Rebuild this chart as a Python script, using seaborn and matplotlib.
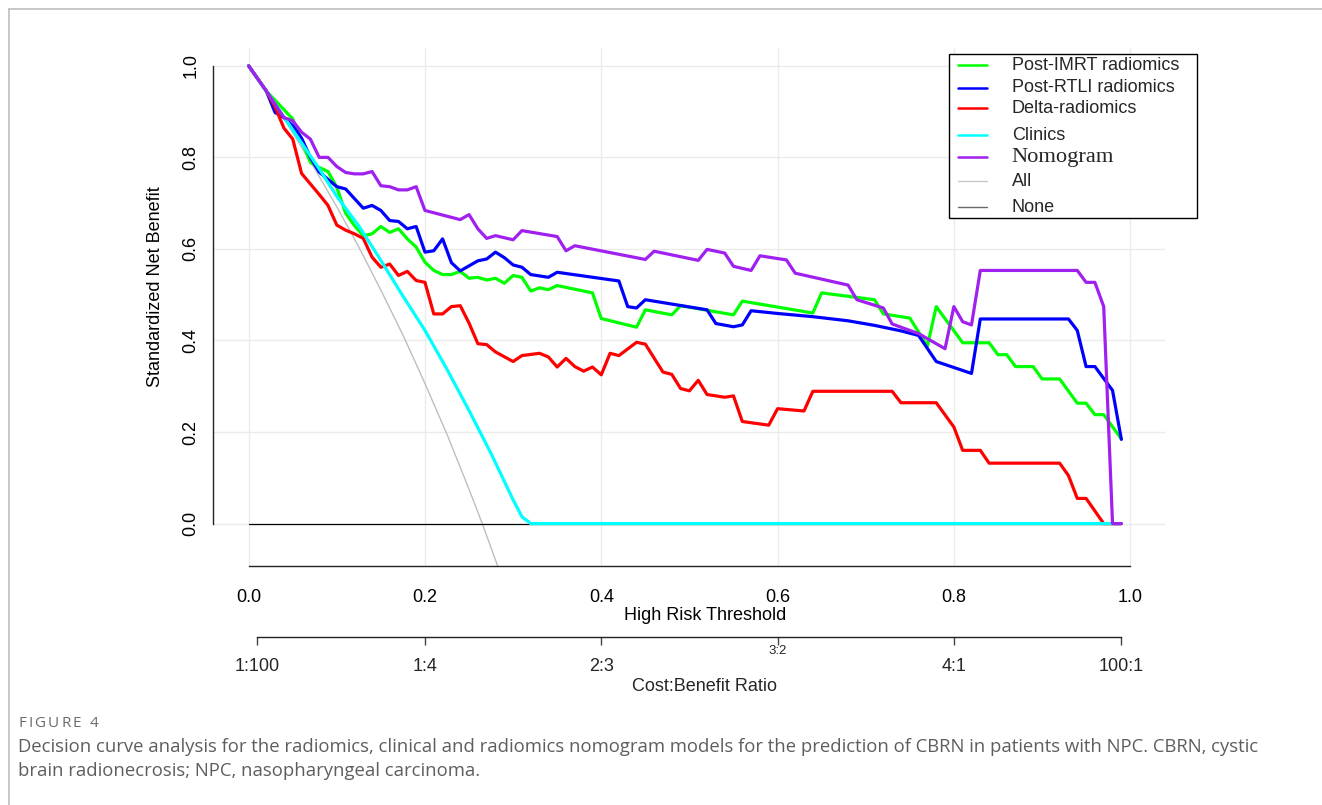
import numpy as np
import pandas as pd
import matplotlib
matplotlib.use("Agg")
import matplotlib.pyplot as plt
import matplotlib.transforms as mtransforms
from matplotlib.lines import Line2D
from matplotlib.patches import Rectangle
import seaborn as sns

# ---------------- data ----------------
post_imrt_x = [0, 0.02, 0.05, 0.07, 0.08, 0.09, 0.10, 0.11, 0.12, 0.13, 0.14, 0.15, 0.16, 0.17,
               0.18, 0.19, 0.20, 0.21, 0.22, 0.23, 0.24, 0.25, 0.26, 0.27, 0.28, 0.29, 0.30, 0.31,
               0.32, 0.33, 0.34, 0.35, 0.39, 0.40, 0.44, 0.45, 0.48, 0.49, 0.55, 0.56, 0.64, 0.65,
               0.71, 0.72, 0.75, 0.77, 0.78, 0.81, 0.84, 0.85, 0.86, 0.87, 0.89, 0.90, 0.92, 0.94,
               0.95, 0.96, 0.97, 0.99]
post_imrt_y = [1.0, 0.945, 0.884, 0.789, 0.778, 0.769, 0.735, 0.678, 0.651, 0.629, 0.633, 0.649,
               0.636, 0.644, 0.622, 0.604, 0.571, 0.553, 0.544, 0.544, 0.551, 0.536, 0.538, 0.532,
               0.536, 0.525, 0.542, 0.538, 0.508, 0.515, 0.511, 0.520, 0.504, 0.448, 0.429, 0.467,
               0.456, 0.476, 0.456, 0.486, 0.460, 0.504, 0.489, 0.458, 0.449, 0.388, 0.474, 0.395,
               0.395, 0.369, 0.369, 0.343, 0.343, 0.316, 0.316, 0.263, 0.263, 0.238, 0.238, 0.185]

post_rtli_x = [0, 0.02, 0.03, 0.04, 0.05, 0.06, 0.07, 0.08, 0.09, 0.10, 0.11, 0.13, 0.14, 0.15,
               0.16, 0.17, 0.18, 0.19, 0.20, 0.21, 0.22, 0.23, 0.24, 0.26, 0.27, 0.28, 0.29, 0.30,
               0.31, 0.32, 0.34, 0.35, 0.42, 0.43, 0.44, 0.45, 0.52, 0.53, 0.55, 0.56, 0.57, 0.60,
               0.64, 0.68, 0.71, 0.74, 0.76, 0.78, 0.82, 0.83, 0.93, 0.94, 0.95, 0.96, 0.98, 0.99]
post_rtli_y = [1.0, 0.945, 0.898, 0.887, 0.869, 0.842, 0.800, 0.768, 0.752, 0.736, 0.731, 0.689,
               0.695, 0.684, 0.662, 0.660, 0.644, 0.649, 0.593, 0.596, 0.622, 0.570, 0.552, 0.574,
               0.578, 0.593, 0.581, 0.565, 0.560, 0.544, 0.538, 0.549, 0.530, 0.474, 0.471, 0.489,
               0.467, 0.437, 0.430, 0.434, 0.465, 0.459, 0.452, 0.443, 0.433, 0.421, 0.411, 0.354,
               0.328, 0.447, 0.447, 0.422, 0.343, 0.343, 0.291, 0.184]

delta_x = [0, 0.02, 0.03, 0.04, 0.05, 0.06, 0.07, 0.08, 0.09, 0.10, 0.11, 0.12, 0.13, 0.14, 0.15,
           0.16, 0.17, 0.18, 0.19, 0.20, 0.21, 0.22, 0.23, 0.24, 0.25, 0.26, 0.27, 0.28, 0.30,
           0.31, 0.33, 0.34, 0.35, 0.36, 0.37, 0.38, 0.39, 0.40, 0.41, 0.42, 0.44, 0.45, 0.47,
           0.48, 0.49, 0.50, 0.51, 0.52, 0.54, 0.55, 0.56, 0.59, 0.60, 0.63, 0.64, 0.73, 0.74,
           0.78, 0.80, 0.81, 0.83, 0.84, 0.92, 0.93, 0.94, 0.95, 0.97, 0.99]
delta_y = [1.0, 0.945, 0.910, 0.864, 0.840, 0.765, 0.742, 0.719, 0.695, 0.652, 0.641, 0.633, 0.623,
           0.582, 0.560, 0.567, 0.542, 0.551, 0.531, 0.527, 0.458, 0.458, 0.474, 0.476, 0.438,
           0.393, 0.391, 0.375, 0.354, 0.367, 0.372, 0.364, 0.342, 0.361, 0.343, 0.333, 0.342,
           0.325, 0.372, 0.367, 0.396, 0.392, 0.331, 0.326, 0.295, 0.290, 0.313, 0.282, 0.276,
           0.279, 0.223, 0.215, 0.251, 0.246, 0.289, 0.289, 0.264, 0.264, 0.211, 0.160, 0.160,
           0.132, 0.132, 0.105, 0.055, 0.055, 0.0, 0.0]

clinics_x = [0, 0.02, 0.05, 0.08, 0.10, 0.125, 0.15, 0.175, 0.20, 0.225, 0.25, 0.275, 0.30, 0.31,
             0.32, 0.99]
clinics_y = [1.0, 0.945, 0.86, 0.775, 0.715, 0.650, 0.575, 0.497, 0.422, 0.337, 0.247, 0.153,
             0.052, 0.015, 0.0, 0.0]

nomogram_x = [0, 0.02, 0.04, 0.05, 0.06, 0.07, 0.08, 0.09, 0.10, 0.11, 0.12, 0.13, 0.14, 0.15,
              0.16, 0.17, 0.18, 0.19, 0.20, 0.24, 0.25, 0.26, 0.27, 0.28, 0.30, 0.31, 0.35, 0.36,
              0.37, 0.45, 0.46, 0.51, 0.52, 0.54, 0.55, 0.57, 0.58, 0.61, 0.62, 0.68, 0.69, 0.72,
              0.73, 0.76, 0.79, 0.80, 0.81, 0.82, 0.83, 0.94, 0.95, 0.96, 0.97, 0.98, 0.99]
nomogram_y = [1.0, 0.945, 0.887, 0.880, 0.855, 0.840, 0.800, 0.800, 0.780, 0.767, 0.764, 0.764,
              0.769, 0.738, 0.736, 0.729, 0.729, 0.736, 0.684, 0.664, 0.675, 0.644, 0.623, 0.629,
              0.620, 0.640, 0.627, 0.596, 0.607, 0.577, 0.595, 0.575, 0.599, 0.591, 0.562, 0.553,
              0.585, 0.576, 0.547, 0.521, 0.489, 0.471, 0.436, 0.415, 0.382, 0.474, 0.441, 0.434,
              0.553, 0.553, 0.527, 0.527, 0.474, 0.0, 0.0]

all_x = [0, 0.025, 0.05, 0.075, 0.10, 0.125, 0.15, 0.175, 0.20, 0.225, 0.25, 0.265, 0.285]
all_y = [1.0, 0.929, 0.854, 0.775, 0.692, 0.604, 0.510, 0.412, 0.306, 0.195, 0.075, 0.0, -0.106]

none_x = [0, 0.99]
none_y = [0.0, 0.0]

model_names = ["Post-IMRT radiomics", "Post-RTLI radiomics", "Delta-radiomics", "Clinics", "Nomogram"]
model_colors = ["#00FF00", "#0000FF", "#FF0000", "#00FFFF", "#A020F0"]

x_ticks = [0.0, 0.2, 0.4, 0.6, 0.8, 1.0]
x_tick_labels = ["0.0", "0.2", "0.4", "0.6", "0.8", "1.0"]
y_ticks = [0.0, 0.2, 0.4, 0.6, 0.8, 1.0]
y_tick_labels = ["0.0", "0.2", "0.4", "0.6", "0.8", "1.0"]
cb_ticks = [0.01, 0.2, 0.4, 0.6, 0.8, 0.99]
cb_labels = ["1:100", "1:4", "2:3", "3:2", "4:1", "100:1"]

# ---------------- build long-form table ----------------
series = [(post_imrt_x, post_imrt_y), (post_rtli_x, post_rtli_y), (delta_x, delta_y),
          (clinics_x, clinics_y), (nomogram_x, nomogram_y)]
frames = []
for name, (xs, ys) in zip(model_names, series):
    frames.append(pd.DataFrame({"threshold": xs, "net_benefit": ys, "model": name}))
df = pd.concat(frames, ignore_index=True)
df_all = pd.DataFrame({"threshold": all_x, "net_benefit": all_y})
df_none = pd.DataFrame({"threshold": none_x, "net_benefit": none_y})

# ---------------- figure ----------------
sns.set_theme(style="white")
plt.rcParams['font.family'] = ['Liberation Sans', 'DejaVu Sans']

W, H = 1322, 805
fig = plt.figure(figsize=(W / 100, H / 100), dpi=100)
fig.patch.set_facecolor("white")

def fx(px):
    return px / W

def fy(py):
    return 1 - py / H

L, R, T, B = 213.4, 1197.0, 46.6, 565.7
ax = fig.add_axes([fx(L), fy(B), (R - L) / W, (B - T) / H])
xmin = -0.04
xmax = xmin + (R - L) / 881.5
ymin, ymax = -0.092, 1.042
ax.set_xlim(xmin, xmax)
ax.set_ylim(ymin, ymax)
ax.set_facecolor("white")

# grid
grid_c = "#EBEBEB"
ax.vlines(x_ticks, ymin, 1.04, colors=grid_c, lw=1.0, zorder=0)
ax.hlines(y_ticks, xmin, 1.04, colors=grid_c, lw=1.0, zorder=0)

# reference lines
sns.lineplot(data=df_all, x="threshold", y="net_benefit", color="#BEBEBE", lw=1.0,
             estimator=None, sort=False, ax=ax, zorder=2)
sns.lineplot(data=df_none, x="threshold", y="net_benefit", color="#000000", lw=0.9,
             estimator=None, sort=False, ax=ax, zorder=2)

# model curves
sns.lineplot(data=df, x="threshold", y="net_benefit", hue="model", hue_order=model_names,
             palette=dict(zip(model_names, model_colors)), estimator=None, sort=False,
             lw=2.3, legend=False, ax=ax, zorder=3)

# axes styling
for s in ["top", "right"]:
    ax.spines[s].set_visible(False)
ax.spines["left"].set_bounds(0, 1)
ax.spines["bottom"].set_bounds(0, 1)
for s in ["left", "bottom"]:
    ax.spines[s].set_color("#222222")
    ax.spines[s].set_linewidth(1.0)

ax.set_xticks(x_ticks)
ax.set_xticklabels(x_tick_labels)
ax.set_yticks(y_ticks)
ax.set_yticklabels(y_tick_labels)
ax.tick_params(axis="both", direction="out", length=6, width=1.0, color="#444444",
               labelsize=13, labelcolor="black")
ax.tick_params(axis="x", pad=11)
ax.tick_params(axis="y", pad=4, labelrotation=90)
for lbl in ax.get_yticklabels():
    lbl.set_va("center")

ax.set_xlabel("High Risk Threshold", fontsize=13, color="black")
ax.xaxis.set_label_coords(0.5, -(615 - B) / (B - T))
ax.xaxis.label.set_va("center")
ax.set_ylabel("Standardized Net Benefit", fontsize=13, color="black")
ax.yaxis.set_label_coords(-(L - 155) / (R - L), (B - 286.7) / (B - T))
ax.yaxis.label.set_va("center")

# secondary cost:benefit axis
ax2 = ax.secondary_xaxis(-(636.7 - B) / (B - T))
ax2.spines["bottom"].set_bounds(0.01, 0.99)
ax2.spines["bottom"].set_color("#222222")
ax2.spines["bottom"].set_linewidth(1.0)
ax2.set_xticks(cb_ticks)
ax2.set_xticklabels([lab if lab != "3:2" else "" for lab in cb_labels])
ax2.tick_params(axis="x", direction="out", length=6, width=1.0, color="#444444",
                labelsize=13, pad=9)
trans = mtransforms.blended_transform_factory(ax.transData, fig.transFigure)
ax.text(cb_ticks[cb_labels.index("3:2")], fy(651), "3:2", transform=trans, fontsize=9.5,
        ha="center", va="center", clip_on=False)
fig.text(fx(705), fy(686), "Cost:Benefit Ratio", fontsize=13, ha="center", va="center")

# legend (drawn manually to mimic base-R legend)
fig.add_artist(Rectangle((fx(949.3), fy(218.3)), (1197.3 - 949.3) / W, (218.3 - 54.3) / H,
                         transform=fig.transFigure, facecolor="white", edgecolor="black",
                         lw=1.0, zorder=5))
leg_names = model_names + ["All", "None"]
leg_colors = model_colors + ["#C8C8C8", "#6A6A6A"]
leg_y = [65.5, 87.7, 108.5, 135, 157.5, 181.5, 207]
for name, col, yy in zip(leg_names, leg_colors, leg_y):
    lw = 1.8 if name not in ("All", "None") else 1.0
    fig.add_artist(Line2D([fx(958), fx(987)], [fy(yy), fy(yy)], transform=fig.transFigure,
                          color=col, lw=lw, zorder=6))
    if name == "Nomogram":
        fig.text(fx(1011.7), fy(yy), name, fontsize=16.2, ha="left", va="center",
                 family=["Liberation Serif", "DejaVu Serif"], zorder=6)
    else:
        fig.text(fx(1011.7), fy(yy), name, fontsize=13, ha="left", va="center", zorder=6)

# frame of the figure card
fig.add_artist(Line2D([fx(9), fx(1322)], [fy(9), fy(9)], transform=fig.transFigure,
                      color="#BDBDBD", lw=1.2))
fig.add_artist(Line2D([fx(9), fx(9)], [fy(9), fy(805)], transform=fig.transFigure,
                      color="#BDBDBD", lw=1.2))

# caption
cap_font = ["Open Sans", "DejaVu Sans"]
renderer = fig.canvas.get_renderer()
cx = 18.0
for ch in "FIGURE 4":
    t = fig.text(fx(cx), fy(723), ch, fontsize=11, color="#6B6B6B", ha="left", va="center",
                 family=cap_font)
    w = t.get_window_extent(renderer=renderer).width if ch != " " else 3.8
    cx += w + 2.2
fig.text(fx(18), fy(747),
         "Decision curve analysis for the radiomics, clinical and radiomics nomogram models for the "
         "prediction of CBRN in patients with NPC. CBRN, cystic",
         fontsize=13.3, color="#5E5E5E", ha="left", va="center", family=cap_font)
fig.text(fx(18), fy(771), "brain radionecrosis; NPC, nasopharyngeal carcinoma.",
         fontsize=13.3, color="#5E5E5E", ha="left", va="center", family=cap_font)

fig.savefig("out.png", dpi=100)
